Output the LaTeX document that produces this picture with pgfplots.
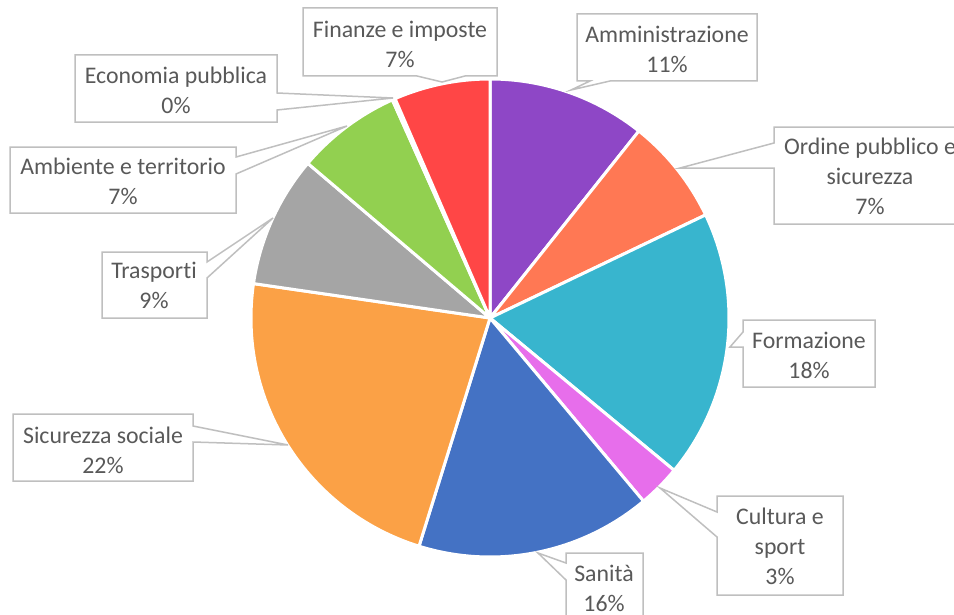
\documentclass[border=0pt]{standalone}
\usepackage{pgfplots}
\pgfplotsset{compat=1.18}
\usepackage{pgfplotstable}
\usepackage{fontspec}
\setmainfont{Carlito}[RawFeature={-liga}]
\definecolor{c0}{HTML}{8E47C6}
\definecolor{c1}{HTML}{FF7854}
\definecolor{c2}{HTML}{38B5CE}
\definecolor{c3}{HTML}{E76EEB}
\definecolor{c4}{HTML}{4472C4}
\definecolor{c5}{HTML}{FBA146}
\definecolor{c6}{HTML}{A5A5A5}
\definecolor{c7}{HTML}{92D050}
\definecolor{c8}{HTML}{264478}
\definecolor{c9}{HTML}{FF4646}
\definecolor{txt}{HTML}{595959}
\definecolor{boxc}{HTML}{BFBFBF}
\tikzset{callout/.style={draw=boxc, line width=1.5bp, fill=white, line join=miter},
  lab/.style={text=txt, align=center, inner sep=0pt, font=\fontsize{23.8bp}{30bp}\selectfont}}
\pgfplotstableread[col sep=comma]{
name,value
Amministrazione,10.7
Ordine pubblico e sicurezza,7.2
Formazione,18.1
Cultura e sport,2.9
Sanità,15.9
Sicurezza sociale,22.5
Trasporti,8.9
Ambiente e territorio,7.1
Economia pubblica,0.2
Finanze e imposte,6.5
}\piedata
\begin{document}
\begin{tikzpicture}
\def\acc{0}%
\pgfplotsforeachungrouped \i in {0,...,9}{%
  \pgfplotstablegetelem{\i}{value}\of\piedata
  \pgfmathsetmacro\s{90-3.6*\acc}%
  \pgfmathsetmacro\acc{\acc+\pgfplotsretval}%
  \pgfmathsetmacro\e{90-3.6*\acc}%
  \expandafter\global\expandafter\let\csname sa\i\endcsname\s
  \expandafter\global\expandafter\let\csname ea\i\endcsname\e
}%
\clip (0,0) rectangle (954bp,615bp);
\begin{axis}[at={(0,0)}, anchor=south west, scale only axis,
  width=954bp, height=615bp, xmin=0, xmax=954, ymin=0, ymax=615,
  y dir=reverse, hide axis, clip=false]
\pgfplotsinvokeforeach{0,...,9}{%
  \fill[fill=c#1, draw=white, line width=3bp, line join=round] (490,318) -- +(\csname sa#1\endcsname:239bp) arc[start angle=\csname sa#1\endcsname, end angle=\csname ea#1\endcsname, radius=239bp] -- cycle;
}
% callouts
\draw[callout] (303,8)--(497,8)--(497,76)--(465,76)--(442,82)--(417,76)--(303,76)--cycle;
\node[lab] at (400,44.5) {Finanze e imposte\\7\%};
\draw[callout] (577,14)--(757,14)--(757,81)--(610,81)--(571,90)--(590,81)--(577,81)--cycle;
\node[lab] at (667,49.5) {Amministrazione\\11\%};
\draw[callout] (774,127)--(965,127)--(965,224)--(774,224)--(774,168)--(680,168)--(774,143)--cycle;
\node[lab] at (870,176.5) {Ordine pubblico e\\sicurezza\\7\%};
\draw[callout] (743,320)--(875,320)--(875,387)--(743,387)--(743,347)--(730,347)--(743,332)--cycle;
\node[lab] at (809,355) {Formazione\\18\%};
\draw[callout] (717,496)--(843,496)--(843,595)--(717,595)--(717,537)--(660,488)--(717,512)--cycle;
\node[lab] at (780,546.5) {Cultura e\\sport\\3\%};
\draw[callout] (566,553)--(643,553)--(643,640)--(566,640)--(566,580)--(538,553)--(566,563)--cycle;
\node[lab] at (604,588) {Sanità\\16\%};
\draw[callout] (13,414)--(193,414)--(193,426)--(288,445)--(193,442)--(193,481)--(13,481)--cycle;
\node[lab] at (103,450) {Sicurezza sociale\\22\%};
\draw[callout] (102,252)--(207,252)--(207,262)--(273,218)--(207,278)--(207,318)--(102,318)--cycle;
\node[lab] at (154,285) {Trasporti\\9\%};
\draw[callout] (10,147)--(236,147)--(236,157)--(347,126)--(236,174)--(236,213)--(10,213)--cycle;
\node[lab] at (123,181.5) {Ambiente e territorio\\7\%};
\draw[callout] (75,55)--(277,55)--(277,93)--(393,98)--(277,110)--(277,122)--(75,122)--cycle;
\node[lab] at (176,90) {Economia pubblica\\0\%};
\end{axis}
\end{tikzpicture}
\end{document}
